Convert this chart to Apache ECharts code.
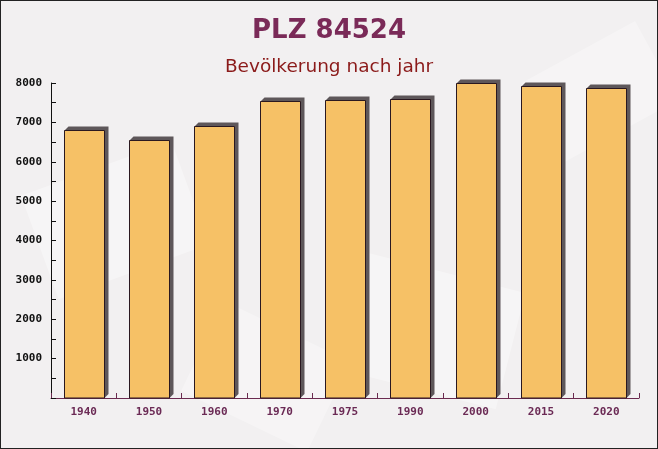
<!DOCTYPE html>
<html>
<head>
<meta charset="utf-8">
<script src="https://cdn.jsdelivr.net/npm/echarts@6/dist/echarts.min.js"></script>
<style>
html,body{margin:0;padding:0;}
#c{width:658px;height:449px;box-sizing:border-box;border:1px solid #222;background:#f2f0f1;}
</style>
</head>
<body>
<div id="c"></div>
<script>
const titleText = 'PLZ 84524';
const subtitleText = 'Bevölkerung nach jahr';
const categories = ['1940','1950','1960','1970','1975','1990','2000','2015','2020'];
const population = [6810, 6550, 6920, 7540, 7570, 7590, 7990, 7920, 7870];
const yMin = 0, yMax = 8000, yStep = 1000;

const chart = echarts.init(document.getElementById('c'), null, {renderer:'canvas'});
const DEPTH = 4, BAR_RATIO = 0.61;
chart.setOption({
  backgroundColor: 'transparent',
  animation: false,
  graphic: [
    {type:'rect', left: 20, top: 140, rotation: 0.35, shape:{width:160,height:110}, style:{fill:'rgba(255,255,255,0.35)'}, silent:true, z:-10},
    {type:'rect', left: 330, top: 250, rotation: -0.25, shape:{width:170,height:120}, style:{fill:'rgba(255,255,255,0.35)'}, silent:true, z:-10},
    {type:'rect', left: 520, top: 20, rotation: 0.5, shape:{width:130,height:90}, style:{fill:'rgba(255,255,255,0.3)'}, silent:true, z:-10},
    {type:'rect', left: 180, top: 300, rotation: -0.45, shape:{width:140,height:100}, style:{fill:'rgba(255,255,255,0.3)'}, silent:true, z:-10}
  ],
  title: [
    {text: titleText, left: 'center', top: 12,
     textStyle: {fontFamily: 'DejaVu Sans', fontWeight: 'bold', fontSize: 26, color: '#7a2a58'}},
    {text: subtitleText, left: 'center', top: 52,
     textStyle: {fontFamily: 'DejaVu Sans', fontWeight: 'normal', fontSize: 18.5, color: '#8b1a1a'}}
  ],
  grid: {left: 50, right: 18, top: 82, bottom: 50, containLabel: false},
  xAxis: {
    type: 'category', data: categories,
    axisLine: {lineStyle: {color: '#6b2a4f', width: 1}},
    axisTick: {show: true, inside: true, length: 5, lineStyle: {color: '#6b2a4f'}},
    axisLabel: {color: '#6b2a55', fontFamily: 'DejaVu Sans Mono', fontWeight: 'bold', fontSize: 11, margin: 9}
  },
  yAxis: {
    type: 'value', min: yMin, max: yMax, interval: yStep,
    axisLine: {show: true, lineStyle: {color: '#111', width: 1}},
    axisTick: {show: true, inside: true, length: 5, lineStyle: {color: '#111'}},
    minorTick: {show: true, splitNumber: 2, length: 5, lineStyle: {color: '#111'}},
    splitLine: {show: false},
    axisLabel: {color: '#111', fontFamily: 'DejaVu Sans Mono', fontWeight: 'bold', fontSize: 11, margin: 9,
      formatter: v => v === 0 ? '' : String(v)}
  },
  series: [{
    type: 'custom',
    data: categories.map((c, i) => [i, population[i]]),
    encode: {x: 0, y: 1},
    renderItem: function (params, api) {
      const top = api.coord([api.value(0), api.value(1)]);
      const bottom = api.coord([api.value(0), 0]);
      const w = api.size([1, 0])[0] * BAR_RATIO;
      const x0 = Math.round(top[0] - w / 2) + 0.5;
      const x1 = Math.round(top[0] + w / 2) + 0.5;
      const yt = Math.round(top[1]) + 0.5;
      const yb = bottom[1];
      const d = DEPTH;
      return {
        type: 'group',
        children: [
          {type: 'polygon', shape: {points: [[x0, yt], [x0 + d, yt - d], [x1 + d, yt - d], [x1 + d, yb - d], [x1, yb]]},
           style: {fill: '#5e575a'}},
          {type: 'rect', shape: {x: x0, y: yt, width: x1 - x0, height: yb - yt},
           style: {fill: '#f6c166', stroke: '#2a1820', lineWidth: 1}}
        ]
      };
    }
  }]
});
</script>
</body>
</html>
